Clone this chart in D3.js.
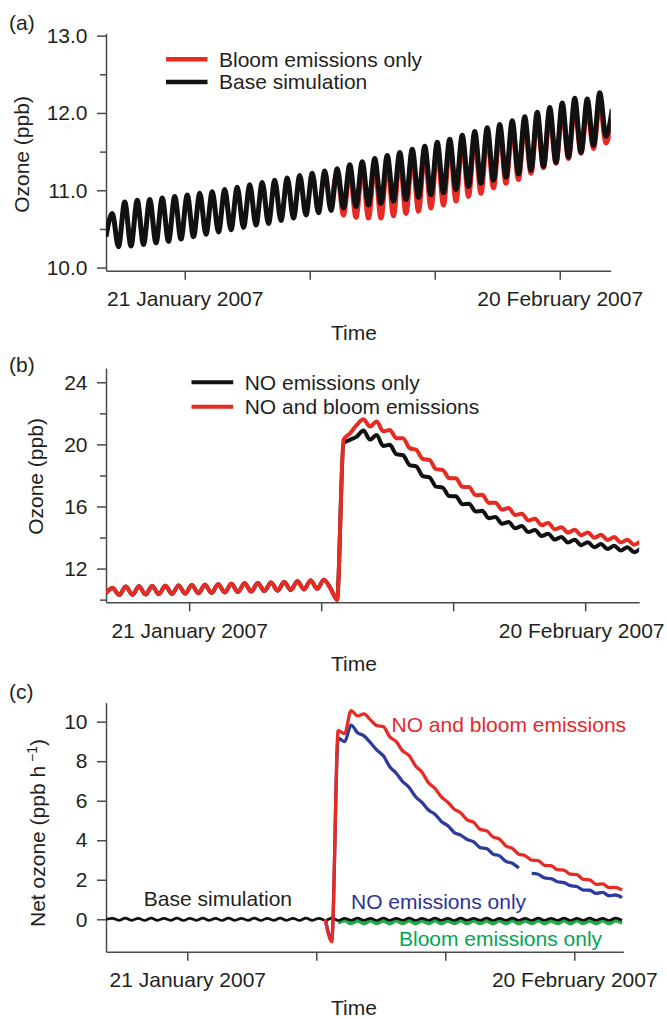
<!DOCTYPE html>
<html>
<head>
<meta charset="UTF-8">
<title>ozone panels</title>
<style>
  body { margin: 0; background: #fff; }
  svg text { font-family: "Liberation Sans", Arial, Helvetica, sans-serif; }
  .axis path, .axis line { stroke: #4a4a4a; stroke-width: 1.5; }
  .axis text { font-size: 21px; fill: #231f20; font-family: "Liberation Sans", Arial, sans-serif; }
</style>
</head>
<body>
<div id="chart"></div>
<script src="https://d3js.org/d3.v7.min.js"></script>
<script>
var width = 667, height = 1019;

// every series is sampled every half day, starting on day 14.7 of January 2007
var dayStart = 14.7, dayStep = 0.5;
var tickDays = [21, 31, 41, 51];
var tickLabels = ["21 January 2007", "", "", "20 February 2007"];

var aTicks = [10, 11, 12, 13], aMinor = [10.5, 11.5, 12.5];
var bTicks = [12, 16, 20, 24], bMinor = [10, 14, 18, 22];
var cTicks = [0, 2, 4, 6, 8, 10];

// (a) ozone, ppb
var aBase = [10.40,
  10.70,10.27, 10.85,10.28, 10.87,10.30, 10.88,10.32, 10.90,10.34, 10.92,10.37, 10.94,10.40, 10.96,10.43, 10.98,10.46, 11.01,10.49,
  11.04,10.52, 11.07,10.55, 11.10,10.57, 11.13,10.61, 11.16,10.64, 11.19,10.68, 11.22,10.71, 11.25,10.74, 11.28,10.77, 11.33,10.79,
  11.37,10.81, 11.41,10.83, 11.45,10.86, 11.49,10.88, 11.53,10.91, 11.57,10.94, 11.62,10.97, 11.66,11.01, 11.71,11.05, 11.76,11.09,
  11.81,11.13, 11.85,11.17, 11.90,11.21, 11.95,11.26, 12.01,11.31, 12.07,11.36, 12.13,11.43, 12.19,11.49, 12.18,11.58, 12.26,11.70,
  12.05];
var aBloomStart = 36;
var aBloom = [10.74,
  11.22,10.68, 11.26,10.65, 11.30,10.64, 11.34,10.64, 11.38,10.67, 11.42,10.70, 11.46,10.73, 11.50,10.77, 11.55,10.81, 11.59,10.86, 11.64,10.92,
  11.68,10.96, 11.73,11.03, 11.77,11.09, 11.82,11.14, 11.87,11.22, 11.93,11.29, 11.98,11.35, 12.03,11.41, 12.08,11.48, 12.06,11.54, 12.13,11.61,
  11.92];

// (b) ozone, ppb
var bNO = [10.42,
  10.75,10.30, 10.85,10.32, 10.86,10.33, 10.88,10.35, 10.90,10.37, 10.92,10.39, 10.94,10.41, 10.96,10.43, 10.99,10.46,
  11.02,10.49, 11.05,10.52, 11.08,10.55, 11.11,10.58, 11.14,10.62, 11.18,10.66, 11.24,10.70, 11.28,10.74,
  10.00, 20.08, 20.30, 20.50,
  20.89,20.30, 20.61,19.90, 19.97,19.37, 19.30,18.67, 18.58,17.96, 17.88,17.28, 17.22,16.67, 16.66,16.15, 16.18,15.68, 15.72,15.25,
  15.32,14.89, 15.00,14.60, 14.74,14.35, 14.49,14.10, 14.24,13.87, 14.04,13.68, 13.86,13.51, 13.70,13.37, 13.58,13.26, 13.47,13.16, 13.38,13.06,
  13.30];
var bBloomStart = 35;
var bBloom = [10.00, 20.30, 20.72, 21.25,
  21.62,21.15, 21.47,20.85, 20.93,20.40, 20.40,19.76, 19.65,19.06, 19.00,18.41, 18.36,17.82, 17.82,17.27, 17.25,16.73, 16.75,16.23,
  16.24,15.80, 15.90,15.45, 15.53,15.10, 15.21,14.80, 14.93,14.53, 14.67,14.32, 14.50,14.15, 14.33,13.99, 14.18,13.84, 14.03,13.68, 13.86,13.54,
  13.75];

// (c) net ozone, ppb per hour
var cBase = [0.00,
  0.05,-0.05, 0.06,-0.05, 0.05,-0.06, 0.06,-0.05, 0.05,-0.05, 0.06,-0.06, 0.05,-0.05, 0.06,-0.05, 0.05,-0.06, 0.06,-0.05,
  0.05,-0.05, 0.06,-0.06, 0.05,-0.05, 0.06,-0.05, 0.05,-0.06, 0.06,-0.05, 0.05,-0.05, 0.06,-0.06, 0.05,-0.05, 0.06,-0.05,
  0.05,-0.06, 0.06,-0.05, 0.05,-0.05, 0.06,-0.06, 0.05,-0.05, 0.06,-0.05, 0.05,-0.06, 0.06,-0.05, 0.05,-0.05, 0.06,-0.06,
  0.05,-0.05, 0.06,-0.05, 0.05,-0.06, 0.06,-0.05, 0.05,-0.05, 0.06,-0.06, 0.05,-0.05, 0.06,-0.05, 0.05,-0.06, 0.06,-0.05];
var cStart = 34;
var cNOBloom = [0.00, -1.13, 9.55, 9.40, 10.56, 10.29, 10.39, 10.09,
  9.80, 9.75, 9.23, 8.99, 8.52, 8.28, 7.76, 7.44, 6.91, 6.63, 6.19, 5.92, 5.57, 5.38, 5.03, 4.91, 4.55, 4.48,
  4.17, 4.06, 3.71, 3.59, 3.29, 3.22, 2.99, 2.97, 2.73, 2.71, 2.51, 2.49, 2.28, 2.26, 2.02, 2.00, 1.77, 1.79, 1.60, 1.62, 1.48];
var cNO = [0.00, -1.00, 9.16, 8.99, 9.83, 9.44, 9.28, 8.94,
  8.56, 8.27, 7.72, 7.39, 6.97, 6.67, 6.20, 5.91, 5.53, 5.32, 4.95, 4.73, 4.39, 4.26, 4.04, 3.92, 3.63, 3.58,
  3.30, 3.21, 2.93, 2.84, 2.59, null, 2.32, 2.28, 2.09, 2.06, 1.90, 1.86, 1.70, 1.66, 1.48, 1.47, 1.31, 1.36, 1.19, 1.23, 1.10];
var cBloomStart = 36;
var cBloom = [-0.18, -0.08, -0.21, -0.09, -0.22,
  -0.08, -0.21, -0.09, -0.22, -0.08,
  -0.21, -0.08, -0.22, -0.09, -0.21,
  -0.08, -0.22, -0.09, -0.21, -0.08,
  -0.22, -0.08, -0.21, -0.09, -0.22,
  -0.08, -0.21, -0.08, -0.22, -0.09,
  -0.21, -0.08, -0.22, -0.09, -0.21,
  -0.08, -0.22, -0.08, -0.21, -0.09,
  -0.22, -0.08, -0.21, -0.08, -0.20];

var RED = "#e62b24", BLACK = "#111111", BLUE = "#2e3a9c", GREEN = "#22a94a";

var svg = d3.select("#chart").append("svg")
    .attr("width", width)
    .attr("height", height)
    .style("background", "#fff");

var jan0 = new Date(2007, 0, 0).getTime();
function dayDate(d) { return new Date(jan0 + d * 864e5); }

function toPoints(values, startIndex) {
  return values.map(function(v, i) {
    return { t: dayDate(dayStart + dayStep * (startIndex + i)), v: v };
  });
}

function drawPanel(p) {
  var x = d3.scaleTime()
      .domain([dayDate(dayStart), dayDate(p.dayEnd)])
      .range([p.x0, p.x0 + (p.dayEnd - dayStart) * p.pxPerDay]);
  var y = d3.scaleLinear().domain(p.yDomain).range([p.yBottom, p.yTop]);

  svg.append("clipPath").attr("id", "clip-" + p.id)
    .append("rect")
      .attr("x", x.range()[0])
      .attr("y", p.yTop - 30)
      .attr("width", x.range()[1] - x.range()[0])
      .attr("height", p.yBottom - p.yTop + 60);

  var xAxis = d3.axisBottom(x)
      .tickValues(tickDays.map(dayDate))
      .tickSize(9).tickSizeOuter(0).tickPadding(11.5)
      .tickFormat(function(d, i) { return tickLabels[i]; });
  var gx = svg.append("g").attr("class", "axis")
      .attr("transform", "translate(0," + p.yBottom + ")")
      .call(xAxis);
  // keep the last date label inside the page
  if (p.lastLabelShift) {
    gx.selectAll(".tick text").filter(function(d, i) { return i === tickDays.length - 1; })
        .attr("dx", p.lastLabelShift);
  }

  var yAxis = d3.axisLeft(y)
      .tickValues(p.yTicks)
      .tickSize(9).tickSizeOuter(0).tickPadding(9.5)
      .tickFormat(p.fmt);
  svg.append("g").attr("class", "axis")
      .attr("transform", "translate(" + p.x0 + ",0)")
      .call(yAxis);

  if (p.yMinor) {
    var minor = svg.append("g").attr("class", "axis")
        .attr("transform", "translate(" + p.x0 + ",0)")
        .call(d3.axisLeft(y).tickValues(p.yMinor).tickSize(6).tickFormat(""));
    minor.select(".domain").remove();
  }

  svg.append("text")
      .attr("x", 9).attr("y", p.labelY)
      .attr("font-size", 21).attr("fill", "#231f20")
      .text(p.label);

  svg.append("text")
      .attr("x", 354).attr("y", p.timeY)
      .attr("text-anchor", "middle")
      .attr("font-size", 21).attr("fill", "#231f20")
      .text("Time");

  var title = svg.append("text")
      .attr("transform", "translate(" + p.titleX + "," + p.titleY + ") rotate(-90)")
      .attr("text-anchor", "middle")
      .attr("font-size", 21).attr("fill", "#231f20");
  title.append("tspan").text(p.title);
  if (p.titleSup) {
    title.append("tspan").attr("font-size", 14).attr("dy", -8).text(" " + p.titleSup);
    title.append("tspan").attr("dy", 8).text(")");
  }

  var line = d3.line()
      .defined(function(d) { return d.v !== null; })
      .x(function(d) { return x(d.t); })
      .y(function(d) { return y(d.v); })
      .curve(d3.curveMonotoneX);

  var plot = svg.append("g").attr("clip-path", "url(#clip-" + p.id + ")");
  return { x: x, y: y, line: line, plot: plot };
}

function addSeries(panel, values, start, color, w) {
  panel.plot.append("path")
      .datum(toPoints(values, start))
      .attr("fill", "none")
      .attr("stroke", color)
      .attr("stroke-width", w)
      .attr("stroke-linejoin", "round")
      .attr("d", panel.line);
}

function legendRow(x1, x2, y, color, w, label) {
  svg.append("line")
      .attr("x1", x1).attr("x2", x2).attr("y1", y).attr("y2", y)
      .attr("stroke", color).attr("stroke-width", w);
  svg.append("text")
      .attr("x", x2 + 11.5).attr("y", y + 7.3)
      .attr("font-size", 21).attr("fill", "#231f20")
      .text(label);
}

function note(x, y, color, label) {
  svg.append("text")
      .attr("x", x).attr("y", y)
      .attr("font-size", 21).attr("fill", color)
      .text(label);
}

// ---- panel (a)
var pa = drawPanel({ id: "a", label: "(a)", labelY: 29.5, x0: 106, pxPerDay: 12.5, dayEnd: 55.08,
  yTop: 33.3, yBottom: 270.7, yDomain: [9.96, 13.03], yTicks: aTicks, yMinor: aMinor,
  fmt: d3.format(".1f"), title: "Ozone (ppb)", titleX: 29, titleY: 154.5, timeY: 339.5 });
addSeries(pa, aBloom, aBloomStart, RED, 5);
addSeries(pa, aBase, 0, BLACK, 5);
legendRow(166, 207.5, 59.3, RED, 4.5, "Bloom emissions only");
legendRow(166, 207.5, 82, BLACK, 4.5, "Base simulation");

// ---- panel (b)
var pb = drawPanel({ id: "b", label: "(b)", labelY: 372, x0: 106, pxPerDay: 13.2, dayEnd: 55.09,
  yTop: 368, yBottom: 602.3, yDomain: [9.83, 24.92], yTicks: bTicks, yMinor: bMinor,
  fmt: d3.format("d"), title: "Ozone (ppb)", titleX: 42.7, titleY: 476.5, timeY: 670.5,
  lastLabelShift: -4 });
addSeries(pb, bNO, 0, BLACK, 4);
addSeries(pb, bNO.slice(0, bBloomStart).concat(bBloom), 0, RED, 4);
legendRow(191.5, 233.2, 382.3, BLACK, 4, "NO emissions only");
legendRow(191.5, 233.2, 406.7, RED, 4, "NO and bloom emissions");

// ---- panel (c)
var pc = drawPanel({ id: "c", label: "(c)", labelY: 698.5, x0: 106, pxPerDay: 12.9, dayEnd: 54.8,
  yTop: 702.7, yBottom: 951.7, yDomain: [-1.64, 10.96], yTicks: cTicks, yMinor: null,
  fmt: d3.format("d"), title: "Net ozone (ppb h", titleSup: "\u22121", titleX: 45, titleY: 833,
  timeY: 1015 });
addSeries(pc, cBloom, cBloomStart, GREEN, 3.5);
addSeries(pc, cBase, 0, BLACK, 2.7);
addSeries(pc, cNO, cStart, BLUE, 3.3);
addSeries(pc, cNOBloom, cStart, RED, 3.3);
note(391.5, 731.5, "#e8262a", "NO and bloom emissions");
note(143.8, 906, "#231f20", "Base simulation");
note(351, 909, "#2e3192", "NO emissions only");
note(399, 946, "#00a651", "Bloom emissions only");
</script>
</body>
</html>
